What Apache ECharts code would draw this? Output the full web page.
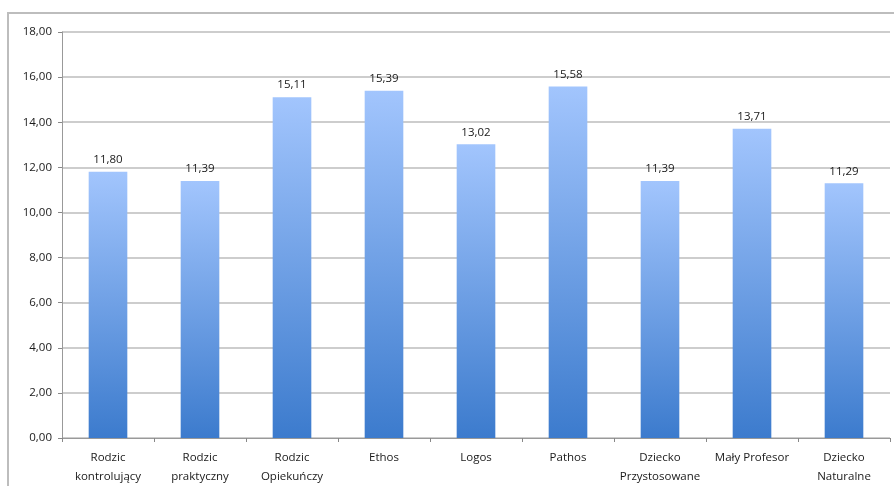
<!DOCTYPE html>
<html><head><meta charset="utf-8">
<script src="https://cdn.jsdelivr.net/npm/echarts@6/dist/echarts.min.js"></script>
<style>html,body{margin:0;padding:0;background:#fff}#c{width:894px;height:486px}</style>
</head><body><div id="c"></div>
<script>
const categories = ["Rodzic\nkontrolujący","Rodzic\npraktyczny","Rodzic\nOpiekuńczy","Ethos","Logos","Pathos","Dziecko\nPrzystosowane","Mały Profesor","Dziecko\nNaturalne"];
const values = [11.80, 11.39, 15.11, 15.39, 13.02, 15.58, 11.39, 13.71, 11.29];
const yMin = 0, yMax = 18, yStep = 2;

const fmt = v => Number(v).toFixed(2).replace('.', ',');
const chart = echarts.init(document.getElementById('c'), null, {renderer:'canvas'});
chart.setOption({
  animation:false,
  textStyle:{fontFamily:'Open Sans'},
  graphic:[{type:'rect', shape:{x:8,y:13,width:900,height:500}, style:{fill:'none', stroke:'#bdbdbd', lineWidth:2}, z:-1}],
  grid:{left:62, right:4, top:32, bottom:45},
  xAxis:{type:'category', data:categories,
    axisLine:{lineStyle:{color:'#999', width:1}},
    axisTick:{show:true, length:4, lineStyle:{color:'#888'}},
    axisLabel:{color:'#1a1a1a', fontSize:11.5, lineHeight:19, margin:10, interval:0}},
  yAxis:{type:'value', min:yMin, max:yMax, interval:yStep,
    axisLine:{show:true, lineStyle:{color:'#999', width:1}},
    axisTick:{show:true, length:4, lineStyle:{color:'#888'}},
    splitLine:{lineStyle:{color:'#bcbcbc', width:1.5}},
    axisLabel:{color:'#1a1a1a', fontSize:11.5, margin:10, formatter:fmt}},
  series:[{type:'bar', data:values, barWidth:'42%',
    itemStyle:{color:new echarts.graphic.LinearGradient(0,0,0,1,[{offset:0,color:'#a2c5fd'},{offset:1,color:'#3c7bcd'}])},
    label:{show:true, position:'top', color:'#1a1a1a', fontSize:11.5, distance:6, formatter:p=>fmt(p.value)}}]
});
</script></body></html>
